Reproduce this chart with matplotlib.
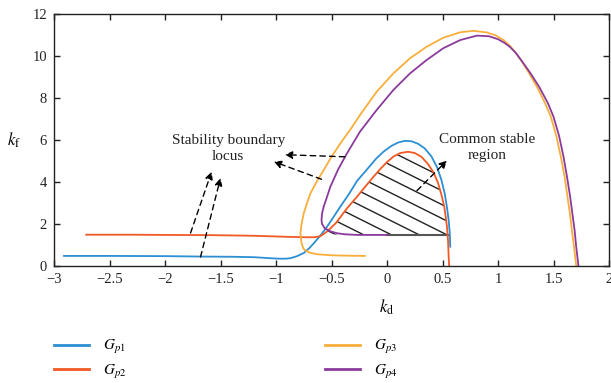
import numpy as np
import matplotlib
matplotlib.use('Agg')
import matplotlib.pyplot as plt

plt.rcParams['font.family'] = ['Liberation Serif', 'DejaVu Serif']
plt.rcParams['mathtext.fontset'] = 'stix'

# curves (k_d, k_f)
gp1_x = [-2.91, -2.5, -2.0, -1.68, -1.4, -1.2, -1.08, -0.98, -0.91, -0.87, -0.81, -0.75, -0.70, -0.66,
         -0.60, -0.54, -0.48, -0.42, -0.34, -0.27, -0.18, -0.10, -0.03, 0.04, 0.10, 0.16, 0.22, 0.28,
         0.34, 0.40, 0.45, 0.49, 0.52, 0.54, 0.555, 0.565, 0.57]
gp1_y = [0.48, 0.48, 0.47, 0.45, 0.44, 0.42, 0.38, 0.35, 0.35, 0.37, 0.47, 0.62, 0.85, 1.08,
         1.45, 1.87, 2.35, 2.83, 3.45, 4.05, 4.6, 5.1, 5.45, 5.72, 5.88, 5.96, 5.94, 5.82,
         5.6, 5.22, 4.72, 4.1, 3.45, 2.8, 2.2, 1.6, 0.92]

gp2_x = [-2.71, -2.3, -2.0, -1.6, -1.2, -0.9, -0.75, -0.65, -0.60, -0.55, -0.51, -0.46, -0.42, -0.36,
         -0.27, -0.20, -0.13, -0.06, 0.00, 0.06, 0.12, 0.19, 0.25, 0.31, 0.37, 0.42, 0.46, 0.49,
         0.515, 0.53, 0.54, 0.55, 0.555, 0.56]
gp2_y = [1.49, 1.49, 1.48, 1.47, 1.44, 1.39, 1.37, 1.37, 1.42, 1.6, 1.79, 2.05, 2.33, 2.75,
         3.3, 3.75, 4.2, 4.62, 4.95, 5.22, 5.38, 5.44, 5.38, 5.2, 4.85, 4.45, 3.95, 3.4,
         2.85, 2.3, 1.87, 1.2, 0.5, 0.0]

gp3_x = [-0.20, -0.35, -0.50, -0.63, -0.70, -0.75, -0.77, -0.78, -0.77, -0.75, -0.72, -0.69, -0.63,
         -0.57, -0.50, -0.42, -0.33, -0.243, -0.093, 0.057, 0.207, 0.357, 0.507, 0.66, 0.78, 0.90,
         0.98, 1.05, 1.11, 1.16, 1.22, 1.28, 1.35, 1.42, 1.476, 1.525, 1.566, 1.60, 1.626, 1.648,
         1.666, 1.685, 1.705]
gp3_y = [0.48, 0.49, 0.51, 0.56, 0.64, 0.8, 1.08, 1.56, 2.0, 2.51, 3.0, 3.46, 4.05,
         4.57, 5.2, 5.84, 6.5, 7.19, 8.30, 9.17, 9.89, 10.44, 10.87, 11.13, 11.2, 11.12,
         10.98, 10.76, 10.47, 10.15, 9.7, 9.18, 8.54, 7.8, 7.11, 6.2, 5.21, 4.25, 3.3, 2.5,
         1.71, 0.9, 0.0]

gp4_x = [0.0, -0.15, -0.27, -0.38, -0.45, -0.51, -0.56, -0.585, -0.59, -0.585, -0.57, -0.54, -0.51,
         -0.44, -0.36, -0.243, -0.093, 0.057, 0.207, 0.357, 0.507, 0.66, 0.81, 0.92, 1.00, 1.06,
         1.11, 1.16, 1.22, 1.29, 1.37, 1.45, 1.50, 1.55, 1.59, 1.62, 1.65, 1.67, 1.69, 1.705, 1.725]
gp4_y = [1.48, 1.48, 1.48, 1.51, 1.56, 1.65, 1.79, 2.0, 2.19, 2.5, 2.83, 3.3, 3.78,
         4.6, 5.37, 6.40, 7.43, 8.38, 9.17, 9.81, 10.37, 10.76, 10.97, 10.94, 10.8, 10.62,
         10.42, 10.15, 9.72, 9.2, 8.54, 7.75, 7.11, 6.2, 5.21, 4.3, 3.3, 2.5, 1.71, 0.9, 0.0]

labels = ['$G_{p1}$', '$G_{p2}$', '$G_{p3}$', '$G_{p4}$']
colors = ['#2c8fd4', '#f15a24', '#f9ae3b', '#8b3a9c']
kf_min = 1.5  # lower edge of the common stable region

fig = plt.figure(figsize=(6.11, 3.83), dpi=100)
ax = fig.add_axes([54 / 611, 1 - 266 / 383, 555 / 611, 252 / 383])

# hatched common stable region
gx = np.array(gp2_x)
gy = np.array(gp2_y)
reg = ax.fill_between(gx, gy, kf_min, where=gy >= kf_min, interpolate=True,
                      facecolor='none', edgecolor='none')
clip = reg.get_paths()[0]
for c in np.arange(0.93 - 0.66, 6.2, 0.66):
    xx = np.array([-1.0, 1.0])
    ln, = ax.plot(xx, c - 2.64 * xx, color='#222222', lw=1.0)
    ln.set_clip_path(clip, ax.transData)
ax.plot([0.0, 0.55], [kf_min, kf_min], color='#555555', lw=1.5)

lines = []
for xs, ys, col, lab in zip([gp1_x, gp2_x, gp3_x, gp4_x], [gp1_y, gp2_y, gp3_y, gp4_y], colors, labels):
    l, = ax.plot(xs, ys, color=col, lw=1.3, label=lab, solid_joinstyle='round')
    lines.append(l)

# dashed arrows
arrows = [((-1.68, 0.43), (-1.50, 4.19)),
          ((-1.77, 1.57), (-1.58, 4.49)),
          ((-0.38, 5.2), (-0.92, 5.3)),
          ((-0.59, 4.13), (-1.02, 4.97)),
          ((0.27, 3.59), (0.54, 5.02))]
for tail, head in arrows:
    ax.annotate('', xy=head, xytext=tail,
                arrowprops=dict(arrowstyle='-|>', linestyle=(0, (4, 3)), color='k',
                                lw=1.0, mutation_scale=11, shrinkA=0, shrinkB=0))

ax.text(-1.43, 5.6, 'Stability boundary\nlocus', ha='center', va='center',
        fontsize=11, linespacing=1.25, color='#222222')
ax.text(0.905, 5.65, 'Common stable\nregion', ha='center', va='center',
        fontsize=11, linespacing=1.25, color='#222222')

ax.set_xlim(-3, 2)
ax.set_ylim(0, 12)
ax.set_xticks(np.arange(-3, 2.01, 0.5))
ax.set_xticklabels(['\u22123', '\u22122.5', '\u22122', '\u22121.5', '\u22121', '\u22120.5',
                    '0', '0.5', '1', '1.5', '2'])
ax.set_yticks(np.arange(0, 13, 2))
ax.tick_params(direction='in', top=True, right=True, length=4, width=1,
               labelsize=10.5, colors='#222222', pad=5)
for s in ax.spines.values():
    s.set_linewidth(1.0)
    s.set_color('#222222')

fig.text(387 / 611, 1 - 307 / 383, '$k_\\mathrm{d}$', ha='center', va='center', fontsize=12)
fig.text(14 / 611, 1 - 140 / 383, '$k_\\mathrm{f}$', ha='center', va='center', fontsize=12)

fig.legend(handles=lines, ncol=2, loc='upper left', bbox_to_anchor=(54 / 611, 1 - 338 / 383),
           frameon=False, fontsize=11, handlelength=2.3, handletextpad=0.9,
           columnspacing=13.0, labelspacing=0.45, borderpad=0, borderaxespad=0)
for h in fig.legends[0].get_lines():
    h.set_linewidth(2)

fig.savefig('out.png', dpi=100)
